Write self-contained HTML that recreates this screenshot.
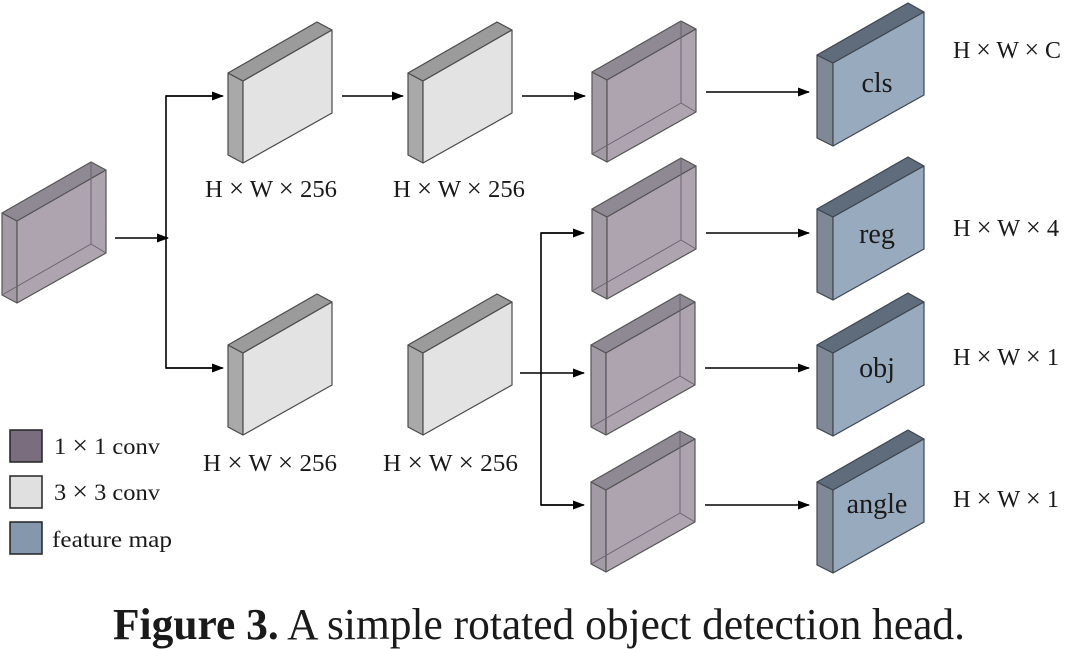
<!DOCTYPE html>
<html><head><meta charset="utf-8"><style>
html,body{margin:0;padding:0;background:#fff;width:1080px;height:649px;overflow:hidden}
svg{display:block}
text{font-family:"Liberation Serif","Noto Serif CJK SC",serif;fill:#1a1a1a}
.x{font-size:26px}
</style></head><body>
<svg width="1080" height="649" viewBox="0 0 1080 649" xmlns="http://www.w3.org/2000/svg">
<defs>
<g id="gray" stroke="#4a4a4a" stroke-width="1.2" stroke-linejoin="round">
 <polygon points="0,0 15,8 15,90 0,82" fill="#a9a9a9"/>
 <polygon points="0,0 89,-51 104,-43 15,8" fill="#9b9b9b"/>
 <polygon points="15,8 104,-43 104,40 15,90" fill="#e3e3e3"/>
</g>
<g id="purp" stroke="#555" stroke-width="1.2" stroke-linejoin="round">
 <polygon points="0,0 15,8 15,90 0,82" fill="#a29aa4"/>
 <polygon points="0,0 89,-51 104,-43 15,8" fill="#8e8993"/>
 <polygon points="15,8 104,-43 104,40 15,90" fill="#aea4b0"/>
 <polyline points="89,-51 89,31 0,82" fill="none" stroke="#6b6470" stroke-width="1"/>
 <line x1="89" y1="31" x2="104" y2="40" stroke="#6b6470" stroke-width="1"/>
</g>
<g id="blue" stroke="#3f4650" stroke-width="1.2" stroke-linejoin="round">
 <polygon points="0,0 16,8 16,91 0,83" fill="#7f8894"/>
 <polygon points="0,0 91,-52 107,-43 16,8" fill="#5f6c7b"/>
 <polygon points="16,8 107,-43 107,40 16,91" fill="#98aabd"/>
</g>
<marker id="ah" markerWidth="12" markerHeight="9" refX="11" refY="4.5" orient="auto" markerUnits="userSpaceOnUse">
 <polygon points="0,0 12,4.5 0,9" fill="#000"/>
</marker>
</defs>

<use href="#purp" x="2" y="213"/>
<use href="#gray" x="228" y="73"/>
<use href="#gray" x="408" y="73"/>
<use href="#gray" x="228" y="345"/>
<use href="#gray" x="408" y="345"/>
<use href="#purp" x="592" y="72"/>
<use href="#purp" x="592" y="209"/>
<use href="#purp" x="591" y="345"/>
<use href="#purp" x="591" y="482"/>
<use href="#blue" x="817" y="55"/>
<use href="#blue" x="817" y="209"/>
<use href="#blue" x="817" y="345"/>
<use href="#blue" x="817" y="482"/>

<g stroke="#000" stroke-width="1.6" fill="none">
 <line x1="115" y1="238" x2="168" y2="238" marker-end="url(#ah)"/>
 <polyline points="222,96 166,96 166,368 222,368"/>
 <line x1="166" y1="96" x2="223" y2="96" marker-end="url(#ah)"/>
 <line x1="166" y1="368" x2="223" y2="368" marker-end="url(#ah)"/>
 <line x1="342" y1="96" x2="403" y2="96" marker-end="url(#ah)"/>
 <line x1="522" y1="96" x2="585" y2="96" marker-end="url(#ah)"/>
 <line x1="520" y1="373" x2="584" y2="373" marker-end="url(#ah)"/>
 <polyline points="583,233 541,233 541,505 583,505"/>
 <line x1="541" y1="233" x2="584" y2="233" marker-end="url(#ah)"/>
 <line x1="541" y1="505" x2="584" y2="505" marker-end="url(#ah)"/>
 <line x1="706" y1="92" x2="809" y2="92" marker-end="url(#ah)"/>
 <line x1="706" y1="233" x2="809" y2="233" marker-end="url(#ah)"/>
 <line x1="705" y1="368" x2="809" y2="368" marker-end="url(#ah)"/>
 <line x1="705" y1="505" x2="809" y2="505" marker-end="url(#ah)"/>
</g>

<g font-size="28" text-anchor="middle">
 <text x="877" y="92">cls</text>
 <text x="877" y="243">reg</text>
 <text x="877" y="377">obj</text>
 <text x="877" y="513">angle</text>
</g>

<g font-size="24">
 <text x="205" y="197" textLength="132" lengthAdjust="spacingAndGlyphs">H <tspan class="x">×</tspan> W <tspan class="x">×</tspan> 256</text>
 <text x="393" y="197" textLength="132" lengthAdjust="spacingAndGlyphs">H <tspan class="x">×</tspan> W <tspan class="x">×</tspan> 256</text>
 <text x="203" y="471" textLength="134" lengthAdjust="spacingAndGlyphs">H <tspan class="x">×</tspan> W <tspan class="x">×</tspan> 256</text>
 <text x="383" y="471" textLength="135" lengthAdjust="spacingAndGlyphs">H <tspan class="x">×</tspan> W <tspan class="x">×</tspan> 256</text>
 <text x="953" y="58" textLength="108" lengthAdjust="spacingAndGlyphs">H <tspan class="x">×</tspan> W <tspan class="x">×</tspan> C</text>
 <text x="953" y="236" textLength="106" lengthAdjust="spacingAndGlyphs">H <tspan class="x">×</tspan> W <tspan class="x">×</tspan> 4</text>
 <text x="953" y="365" textLength="106" lengthAdjust="spacingAndGlyphs">H <tspan class="x">×</tspan> W <tspan class="x">×</tspan> 1</text>
 <text x="953" y="507" textLength="106" lengthAdjust="spacingAndGlyphs">H <tspan class="x">×</tspan> W <tspan class="x">×</tspan> 1</text>
</g>

<g stroke="#222" stroke-width="1.5">
 <rect x="10" y="430" width="32" height="32" fill="#7a6e7e"/>
 <rect x="10" y="476" width="32" height="32" fill="#e0e0e0"/>
 <rect x="10" y="522" width="32" height="32" fill="#8497ad"/>
</g>
<g font-size="23">
 <text x="54" y="454" textLength="106" lengthAdjust="spacingAndGlyphs">1 <tspan class="x">×</tspan> 1 conv</text>
 <text x="54" y="500" textLength="106" lengthAdjust="spacingAndGlyphs">3 <tspan class="x">×</tspan> 3 conv</text>
 <text x="52" y="547" textLength="120" lengthAdjust="spacingAndGlyphs">feature map</text>
</g>

<text x="113" y="639" font-size="44" textLength="852" lengthAdjust="spacingAndGlyphs"><tspan font-weight="bold">Figure 3.</tspan> A simple rotated object detection head.</text>
</svg>
</body></html>
